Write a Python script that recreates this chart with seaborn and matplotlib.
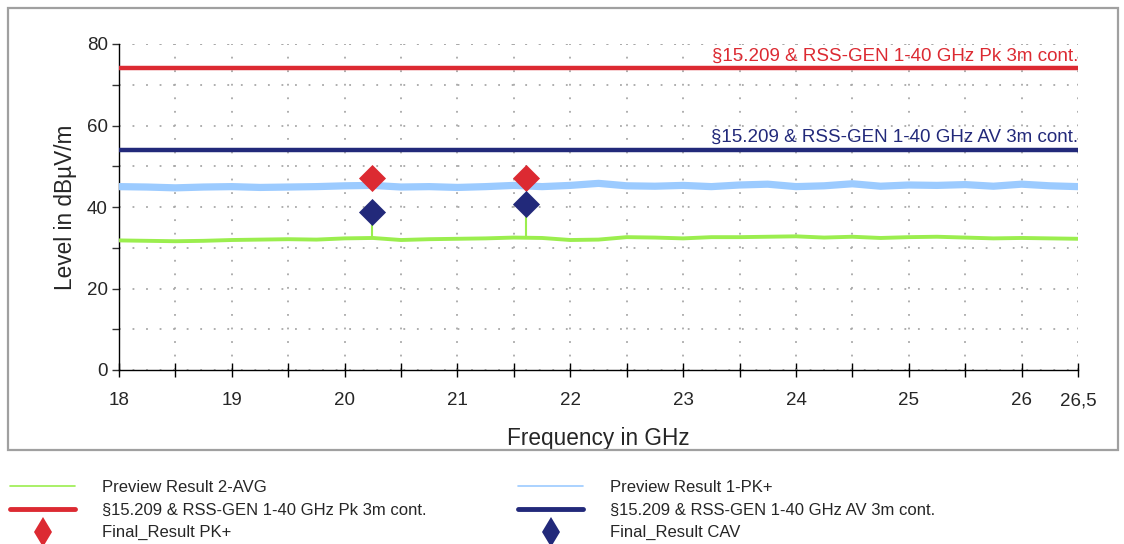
import matplotlib
matplotlib.use("Agg")
import matplotlib.pyplot as plt
import seaborn as sns
import pandas as pd
from matplotlib.lines import Line2D
from matplotlib.patches import Rectangle
from matplotlib.ticker import MultipleLocator, FuncFormatter

# ---------------- data ----------------
freq_ghz = [18.0, 18.25, 18.5, 18.75, 19.0, 19.25, 19.5, 19.75, 20.0, 20.25,
            20.5, 20.75, 21.0, 21.25, 21.5, 21.75, 22.0, 22.25, 22.5, 22.75,
            23.0, 23.25, 23.5, 23.75, 24.0, 24.25, 24.5, 24.75, 25.0, 25.25,
            25.5, 25.75, 26.0, 26.25, 26.5]
pk_preview = [45.0, 44.9, 44.7, 44.9, 45.0, 44.8, 44.9, 45.0, 45.2, 45.3,
              44.9, 45.0, 44.8, 45.0, 45.3, 45.0, 45.3, 45.8, 45.2, 45.1,
              45.3, 45.0, 45.4, 45.6, 45.0, 45.2, 45.7, 45.1, 45.4, 45.3,
              45.5, 45.1, 45.6, 45.2, 45.0]
avg_preview = [31.8, 31.7, 31.6, 31.7, 31.9, 32.0, 32.1, 32.0, 32.3, 32.4,
               31.9, 32.1, 32.2, 32.3, 32.5, 32.4, 31.9, 32.0, 32.6, 32.5,
               32.3, 32.6, 32.6, 32.7, 32.8, 32.5, 32.7, 32.4, 32.6, 32.7,
               32.5, 32.3, 32.4, 32.3, 32.2]
limit_freq = [18.0, 26.5]
limit_pk = [74.0, 74.0]
limit_av = [54.0, 54.0]
final_freq = [20.24, 21.61]
final_pk = [47.1, 47.1]
final_cav = [38.8, 40.7]
final_avg_base = [32.3, 32.4]

label_avg = "Preview Result 2-AVG"
label_pk = "Preview Result 1-PK+"
label_lim_pk = "§15.209 & RSS-GEN 1-40 GHz Pk 3m cont."
label_lim_av = "§15.209 & RSS-GEN 1-40 GHz AV 3m cont."
label_fin_pk = "Final_Result PK+"
label_fin_cav = "Final_Result CAV"

C_RED = "#dc2a32"
C_NAVY = "#22297a"
C_LBLUE = "#9ccbff"
C_GREEN = "#9bee4e"
C_GRID = "#a8a8a8"

sns.set_style("white")
plt.rcParams["font.family"] = ["Liberation Sans", "DejaVu Sans"]

fig = plt.figure(figsize=(11.24, 5.44), dpi=100)
W, H = 1124, 544

# outer frame
fig.patches.append(Rectangle((8 / W, 1 - 450 / H), (1118 - 8) / W, (450 - 8) / H,
                             transform=fig.transFigure, fill=False,
                             edgecolor="#a0a0a0", linewidth=1.6))

ax = fig.add_axes([119 / W, 1 - 370 / H, (1078 - 119) / W, (370 - 44) / H])

df_pk = pd.DataFrame({"f": freq_ghz, "v": pk_preview})
df_avg = pd.DataFrame({"f": freq_ghz, "v": avg_preview})
df_lpk = pd.DataFrame({"f": limit_freq, "v": limit_pk})
df_lav = pd.DataFrame({"f": limit_freq, "v": limit_av})
df_fpk = pd.DataFrame({"f": final_freq, "v": final_pk})
df_fcav = pd.DataFrame({"f": final_freq, "v": final_cav})

sns.lineplot(data=df_pk, x="f", y="v", ax=ax, color=C_LBLUE, linewidth=5.2, zorder=3)
sns.lineplot(data=df_avg, x="f", y="v", ax=ax, color=C_GREEN, linewidth=2.8, zorder=3)
ax.vlines(final_freq, final_avg_base, final_cav, color=C_GREEN, linewidth=1.5, zorder=3)
sns.lineplot(data=df_lpk, x="f", y="v", ax=ax, color=C_RED, linewidth=3.2, zorder=4)
sns.lineplot(data=df_lav, x="f", y="v", ax=ax, color=C_NAVY, linewidth=3.2, zorder=4)
sns.scatterplot(data=df_fpk, x="f", y="v", ax=ax, color=C_RED, marker="D", s=190,
                linewidth=0, zorder=5)
sns.scatterplot(data=df_fcav, x="f", y="v", ax=ax, color=C_NAVY, marker="D", s=190,
                linewidth=0, zorder=5)

ax.text(limit_freq[1], limit_pk[1] + 0.9, label_lim_pk, color=C_RED, ha="right",
        va="bottom", fontsize=13.5)
ax.text(limit_freq[1], limit_av[1] + 0.9, label_lim_av, color=C_NAVY, ha="right",
        va="bottom", fontsize=13.5)

ax.set_xlim(18, 26.5)
ax.set_ylim(0, 80)
ax.xaxis.set_major_locator(MultipleLocator(0.5))
ax.yaxis.set_major_locator(MultipleLocator(20))
ax.yaxis.set_minor_locator(MultipleLocator(10))


def xfmt(v, pos):
    if abs(v - 26.5) < 1e-6:
        return "26,5"
    if abs(v - round(v)) < 1e-6:
        return str(int(round(v)))
    return ""


ax.xaxis.set_major_formatter(FuncFormatter(xfmt))
ax.tick_params(axis="x", which="major", direction="inout", length=10, width=1,
               color="black", labelsize=13.5, pad=11)
ax.tick_params(axis="y", which="both", direction="out", length=5, width=1,
               color="#333333", labelsize=13.5, pad=3, left=True)
ax.tick_params(axis="x", bottom=True)

for s in ["top", "right"]:
    ax.spines[s].set_visible(False)
for s in ["left", "bottom"]:
    ax.spines[s].set_color("black")
    ax.spines[s].set_linewidth(1.0)

ax.grid(True, which="both", axis="y", color=C_GRID, linestyle=(0, (1, 6.5)), linewidth=1.3)
ax.grid(True, which="major", axis="x", color=C_GRID, linestyle=(0, (1, 6.5)), linewidth=1.3)
ax.axhline(80, color=C_GRID, linestyle=(0, (1, 6.5)), linewidth=1.3, zorder=1)

ax.set_xlabel("Frequency in GHz", fontsize=16.3, labelpad=13)
ax.set_ylabel("Level in dBµV/m", fontsize=16.3, labelpad=7)

# legend
h_avg = Line2D([], [], color=C_GREEN, linewidth=1.2)
h_pk = Line2D([], [], color=C_LBLUE, linewidth=1.2)
h_lpk = Line2D([], [], color=C_RED, linewidth=3.5)
h_lav = Line2D([], [], color=C_NAVY, linewidth=3.5)
h_fpk = Line2D([], [], color=C_RED, marker="d", markersize=15, linestyle="none",
               markeredgewidth=0)
h_fcav = Line2D([], [], color=C_NAVY, marker="d", markersize=15, linestyle="none",
                markeredgewidth=0)

leg_kw = dict(frameon=False, fontsize=12, handlelength=3.9, handletextpad=1.6,
              labelspacing=0.46, borderpad=0, borderaxespad=0, loc="upper left")
leg1 = fig.legend([h_avg, h_lpk, h_fpk], [label_avg, label_lim_pk, label_fin_pk],
                  bbox_to_anchor=(10 / W, 1 - 480 / H), **leg_kw)
leg2 = fig.legend([h_pk, h_lav, h_fcav], [label_pk, label_lim_av, label_fin_cav],
                  bbox_to_anchor=(518 / W, 1 - 480 / H), **leg_kw)

fig.savefig("out.png", dpi=100)
